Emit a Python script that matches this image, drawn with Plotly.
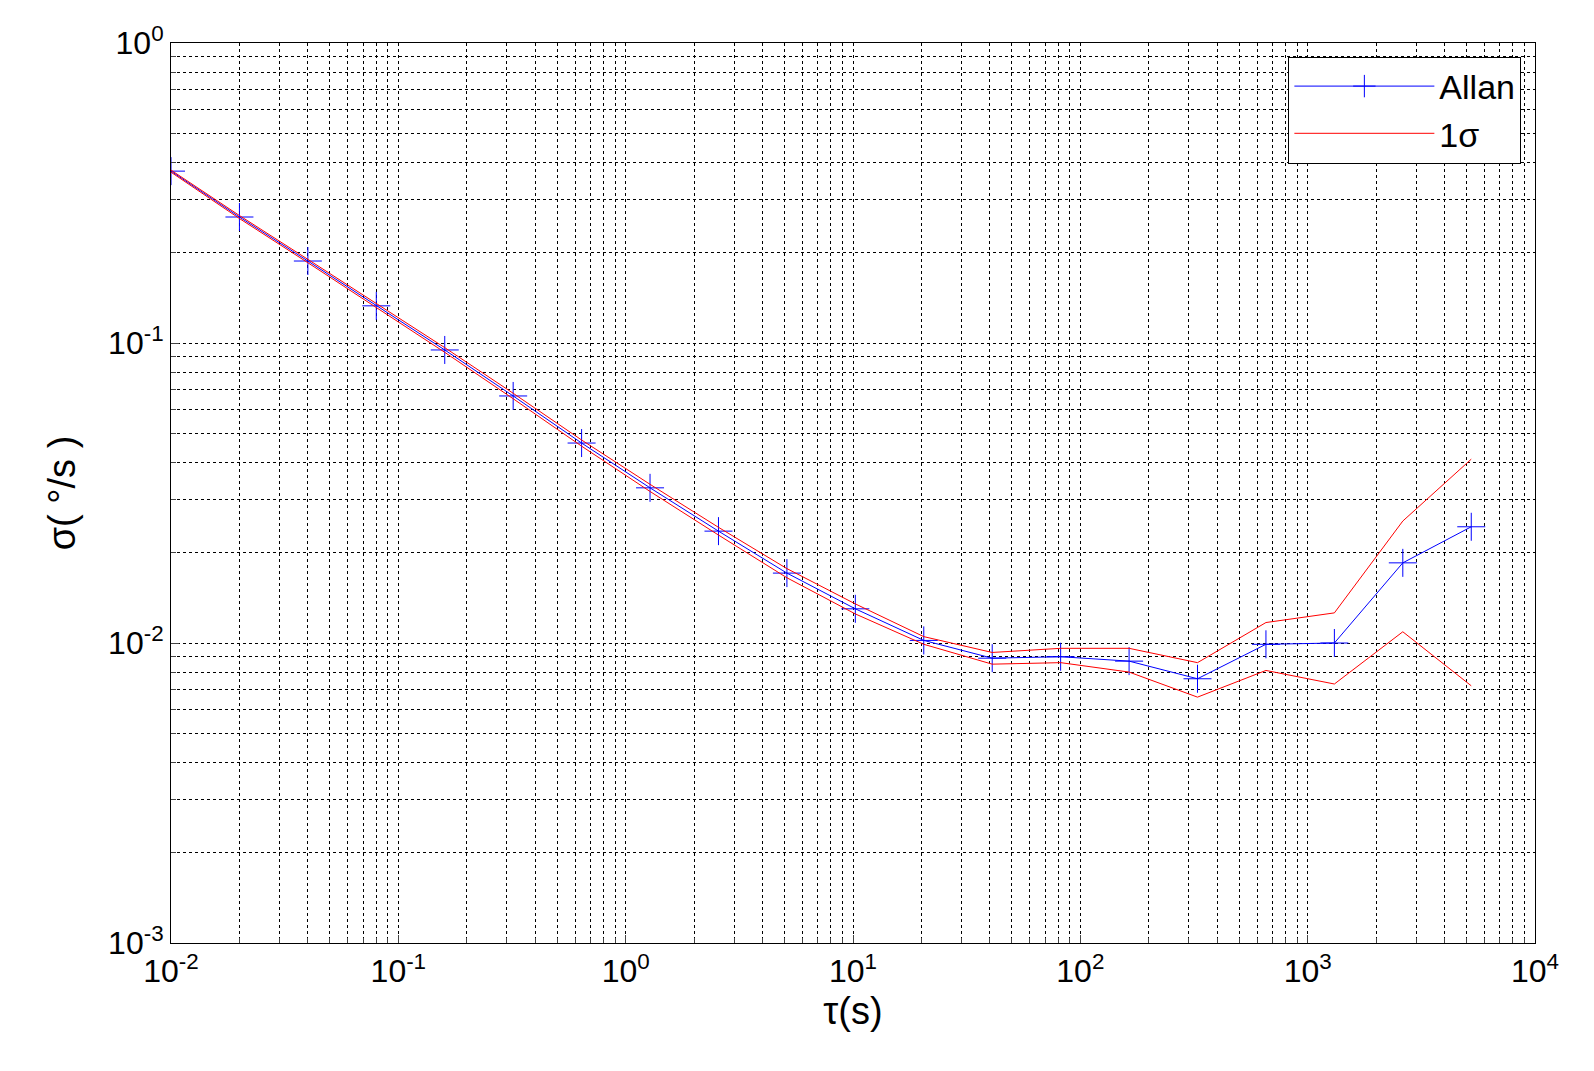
import plotly.graph_objects as go

tau = [0.01, 0.02, 0.04, 0.08, 0.16, 0.32, 0.64, 1.28, 2.56, 5.12, 10.24,
       20.48, 40.96, 81.92, 163.84, 327.68, 655.36, 1310.72, 2621.44, 5242.88]
allan = [0.374, 0.263, 0.1876, 0.133, 0.0948, 0.0666, 0.0464, 0.0329, 0.0236, 0.0171,
         0.0130, 0.0102, 0.0089, 0.0090, 0.0087, 0.0076, 0.0099, 0.0100, 0.0185, 0.0244]
upper = [0.377, 0.266, 0.1900, 0.1350, 0.0965, 0.0680, 0.0475, 0.0338, 0.0243, 0.0177,
         0.0135, 0.0105, 0.0093, 0.0096, 0.0096, 0.0086, 0.0117, 0.0126, 0.0255, 0.0410]
lower = [0.371, 0.260, 0.1852, 0.1310, 0.0931, 0.0652, 0.0453, 0.0320, 0.0229, 0.0165,
         0.0125, 0.0099, 0.0085, 0.0086, 0.0080, 0.0066, 0.0081, 0.0073, 0.0109, 0.0072]

x_tickvals = [0.01, 0.1, 1, 10, 100, 1000, 10000]
x_ticktext = ['10<sup>-2</sup>', '10<sup>-1</sup>', '10<sup>0</sup>', '10<sup>1</sup>',
              '10<sup>2</sup>', '10<sup>3</sup>', '10<sup>4</sup>']
y_tickvals = [0.001, 0.01, 0.1, 1]
y_ticktext = ['10<sup>-3</sup>', '10<sup>-2</sup>', '10<sup>-1</sup>', '10<sup>0</sup>']

x_minor = [m * d for d in x_tickvals[:-1] for m in range(2, 10)]
y_minor = [m * d for d in y_tickvals[:-1] for m in range(2, 10)]

fig = go.Figure()
fig.add_trace(go.Scatter(x=tau, y=allan, mode='lines+markers', name='Allan',
                         line=dict(color='blue', width=1),
                         marker=dict(symbol='cross-thin', size=20, line=dict(color='blue', width=1))))
fig.add_trace(go.Scatter(x=tau, y=upper, mode='lines', name='1σ',
                         line=dict(color='red', width=1)))
fig.add_trace(go.Scatter(x=tau, y=lower, mode='lines', showlegend=False,
                         line=dict(color='red', width=1)))

axis = dict(type='log', showline=True, mirror=True,
            linecolor='black', linewidth=1, ticks='inside', ticklen=8,
            showgrid=True, gridcolor='black', gridwidth=0.6, griddash='dot',
            tickfont=dict(family='Liberation Sans', size=32, color='black'),
            zeroline=False)
minor = dict(showgrid=True, gridcolor='black', gridwidth=0.5, griddash='dot',
             ticks='inside', ticklen=5)

fig.update_layout(
    width=1594, height=1071,
    margin=dict(l=163, r=67, t=35, b=136),
    plot_bgcolor='white', paper_bgcolor='white',
    xaxis=dict(axis, range=[-2, 4], tickvals=x_tickvals, ticktext=x_ticktext,
               minor=dict(minor, tickvals=x_minor),
               title=dict(text='τ(s)', font=dict(family='Liberation Sans', size=38, color='black'), standoff=8)),
    yaxis=dict(axis, range=[-3, 0], tickvals=y_tickvals, ticktext=y_ticktext,
               minor=dict(minor, tickvals=y_minor),
               title=dict(text='σ( °/s )', font=dict(family='Liberation Sans', size=38, color='black'), standoff=20)),
    legend=dict(x=0.99, y=0.985, xanchor='right', yanchor='top', bgcolor='white',
                bordercolor='black', borderwidth=1,
                font=dict(family='Liberation Sans', size=34, color='black'),
                itemwidth=140, tracegroupgap=10),
)

fig.write_html("out.html")
